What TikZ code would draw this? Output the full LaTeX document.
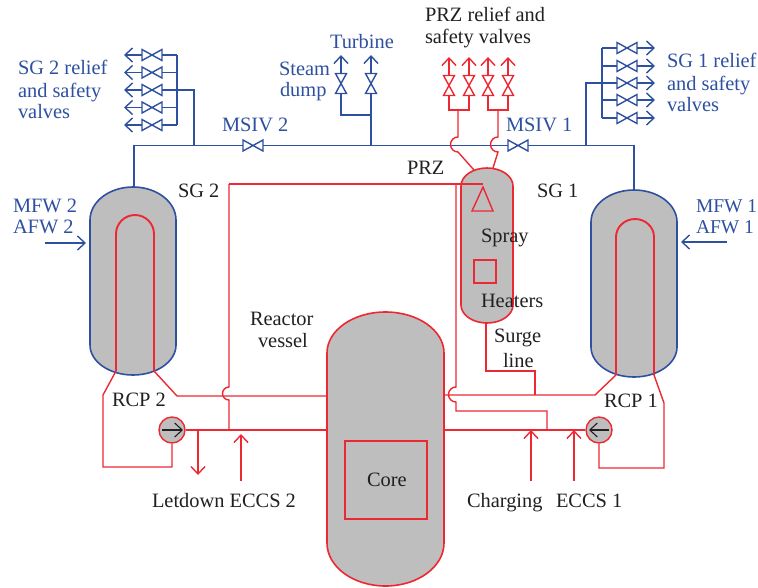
\documentclass[tikz,border=0pt]{standalone}
\usepackage{fontspec}
\setmainfont{Liberation Serif}
\usetikzlibrary{arrows.meta}
\definecolor{pblue}{RGB}{46,80,160}
\definecolor{pred}{RGB}{237,40,50}
\definecolor{pgrey}{RGB}{190,190,190}
\definecolor{pblack}{RGB}{35,31,32}
\tikzset{
  x=1pt,y=-1pt,
  lbl/.style={anchor=base west,inner sep=0pt,outer sep=0pt,font=\fontsize{20.4}{23}\selectfont},
  blbl/.style={lbl,text=pblue},
  blblsmall/.style={blbl,font=\fontsize{19.5}{23}\selectfont},
  klbl/.style={lbl,text=pblack},
  pipe/.style={line width=1.4pt,line join=miter},
  bluepipe/.style={pipe,draw=pblue},
  redpipe/.style={pipe,draw=pred},
  utube/.style={line width=1.9pt,draw=pred},
  vessel/.style={line width=1.6pt,fill=pgrey},
  barb/.style={-{Straight Barb[length=7.5pt,width=14pt,line width=1.4pt]}},
  pumparrow/.style={line width=1.1pt,draw=pblack,-{Straight Barb[length=7.5pt,width=14pt,line width=1.1pt]}},
  valve/.pic={\draw[pic actions] (-10,-5.5)--(10,5.5)--(10,-5.5)--(-10,5.5)--cycle;},
}
\begin{document}
\begin{tikzpicture}
\useasboundingbox (0,0) rectangle (758,587);

% ---- blue steam lines
\coordinate (sg2top) at (134,187);
\coordinate (sg1top) at (634,190);
\draw[bluepipe] (sg2top) -- (134,145.5) -- (634,145.5) -- (sg1top);
\draw[bluepipe] (194,145.5) -- (194,90) -- (162,90);
\draw[bluepipe] (177,55) -- (177,125);
\foreach \y in {55,72.5,90,107.5,125}{
  \draw[bluepipe] (177,\y) -- (162,\y);
  \path (152,\y) pic[bluepipe]{valve};
  \draw[bluepipe,barb] (142,\y) -- (124,\y);
}
\draw[bluepipe] (586,145.5) -- (586,83) -- (617,83);
\draw[bluepipe] (602,48) -- (602,118);
\foreach \y in {48,66,83,100,118}{
  \draw[bluepipe] (602,\y) -- (617,\y);
  \path (627,\y) pic[bluepipe]{valve};
  \draw[bluepipe,barb] (637,\y) -- (655,\y);
}
\draw[bluepipe] (371,145.5) -- (371,115) -- (341,115) -- (341,93);
\draw[bluepipe] (371,115) -- (371,93);
\foreach \x in {341,371}{
  \path (\x,83.5) pic[bluepipe,rotate=90]{valve};
  \draw[bluepipe,barb] (\x,74) -- (\x,55);
}
\fill[white] (243,140) rectangle (263,151);
\path (253,145.5) pic[bluepipe]{valve};
\fill[white] (508,140) rectangle (528,151);
\path (518,145.5) pic[bluepipe]{valve};

% ---- vessels
\draw[vessel,draw=pblue] (90,220) arc[start angle=180,end angle=360,x radius=43,y radius=33]
  -- (176,345) arc[start angle=0,end angle=180,x radius=43,y radius=30] -- cycle;
\draw[vessel,draw=pblue] (591,222) arc[start angle=180,end angle=360,x radius=43,y radius=32]
  -- (677,347) arc[start angle=0,end angle=180,x radius=43,y radius=30] -- cycle;
\draw[vessel,draw=pred] (327,353) arc[start angle=180,end angle=360,x radius=58.5,y radius=41]
  -- (444,543) arc[start angle=0,end angle=180,x radius=58.5,y radius=43] -- cycle;
\draw[vessel,draw=pred] (461,186) arc[start angle=180,end angle=360,x radius=26,y radius=18]
  -- (513,305) arc[start angle=0,end angle=180,x radius=26,y radius=18] -- cycle;
\draw[redpipe] (345,441) rectangle (427,519);

% ---- U-tubes
\draw[utube] (116,371) -- (116,234) arc[start angle=180,end angle=360,x radius=19,y radius=19] -- (154,371);
\draw[utube] (616,375) -- (616,237) arc[start angle=180,end angle=360,x radius=19,y radius=18] -- (654,375);

% ---- primary loop 2
\node[circle,draw=pred,fill=pgrey,line width=1.4pt,minimum size=26pt,inner sep=0pt] (rcp2) at (172,430) {};
\draw[redpipe] (116,371) -- (103,395) -- (103,467) -- (172,467) -- (rcp2.south);
\draw[redpipe] (154,371) -- (177,396) -- (327,396);
\draw[redpipe] (rcp2.east) -- (327,430);
\draw[pumparrow] (162,430) -- (183,430);
\draw[redpipe] (229,184) -- (229,387) arc[start angle=-90,end angle=-270,x radius=6.5,y radius=6.5] -- (229,400) -- (229,430);
\draw[redpipe,barb] (198,430) -- (198,475);
\draw[redpipe,barb] (241,481) -- (241,434);

% ---- primary loop 1
\node[circle,draw=pred,fill=pgrey,line width=1.4pt,minimum size=26pt,inner sep=0pt] (rcp1) at (599,430) {};
\draw[redpipe] (616,375) -- (595,395) -- (444,395);
\draw[redpipe] (654,375) -- (664,403) -- (664,468) -- (599,468) -- (rcp1.south);
\draw[redpipe] (rcp1.west) -- (443,430);
\draw[pumparrow] (609,430) -- (589,430);
\draw[redpipe] (456,184) -- (456,387) arc[start angle=-90,end angle=-270,x radius=7.5,y radius=7.5] -- (456,411) -- (547,411) -- (547,430);
\draw[redpipe] (486,322) -- (486,371) -- (535,371) -- (535,395);
\draw[redpipe,barb] (531,481) -- (531,430);
\draw[redpipe,barb] (574,481) -- (574,430);

% ---- pressurizer internals
\draw[redpipe] (229,184) -- (483,184);
\draw[redpipe] (483,187) -- (493,211) -- (472,211) -- cycle;
\draw[redpipe] (474,260) rectangle (496,283);

% ---- PRZ relief
\draw[redpipe] (474,170) -- (458,152) arc[start angle=90,end angle=270,x radius=7.5,y radius=7.5] -- (458,110);
\draw[redpipe] (493,168) -- (498,152) arc[start angle=90,end angle=270,x radius=7.5,y radius=7.5] -- (498,110);
\draw[redpipe] (449,95) -- (449,110) -- (469,110) -- (469,95);
\draw[redpipe] (488,95) -- (488,110) -- (508,110) -- (508,95);
\foreach \x in {449,469,488,508}{
  \path (\x,85.5) pic[redpipe,rotate=90]{valve};
  \draw[redpipe,barb] (\x,76) -- (\x,57);
}

% ---- feedwater
\draw[bluepipe,barb] (45,243) -- (86,243);
\draw[bluepipe,barb] (727,242) -- (681,242);

% ---- labels
\node[blbl] (t1) at (18,74) {SG 2 relief};
\node[blbl] (t2) at (18,97) {and safety};
\node[blbl] (t3) at (18,118) {valves};
\node[blbl] (t4) at (330,48) {Turbine};
\node[blbl] (t5) at (279,75) {Steam};
\node[blbl] (t6) at (280,96) {dump};
\node[blbl] (t7) at (222,131) {MSIV 2};
\node[blbl] (t8) at (506,131) {MSIV 1};
\node[blbl] (t9) at (667,67) {SG 1 relief};
\node[blbl] (t10) at (667,90) {and safety};
\node[blbl] (t11) at (667,111) {valves};
\node[blbl] (t12) at (13,212) {MFW 2};
\node[blbl] (t13) at (13,233) {AFW 2};
\node[blblsmall] (t14) at (696,212) {MFW 1};
\node[blblsmall] (t15) at (696,233) {AFW 1};
\node[klbl] (k1) at (425,21) {PRZ relief and};
\node[klbl] (k2) at (425,43) {safety valves};
\node[klbl] (k3) at (407,174) {PRZ};
\node[klbl] (k4) at (178,197) {SG 2};
\node[klbl] (k5) at (537,197) {SG 1};
\node[klbl] (k6) at (481,242) {Spray};
\node[klbl] (k7) at (481,307) {Heaters};
\node[klbl] (k8) at (494,342) {Surge};
\node[klbl] (k9) at (503,367) {line};
\node[klbl] (k10) at (250,325) {Reactor};
\node[klbl] (k11) at (258,347) {vessel};
\node[klbl] (k12) at (112,406) {RCP 2};
\node[klbl] (k13) at (604,407) {RCP 1};
\node[klbl] (k14) at (367,486) {Core};
\node[klbl] (k15) at (152,507) {Letdown ECCS 2};
\node[klbl] (k16) at (467,507) {Charging};
\node[klbl] (k17) at (556,507) {ECCS 1};
\end{tikzpicture}
\end{document}
